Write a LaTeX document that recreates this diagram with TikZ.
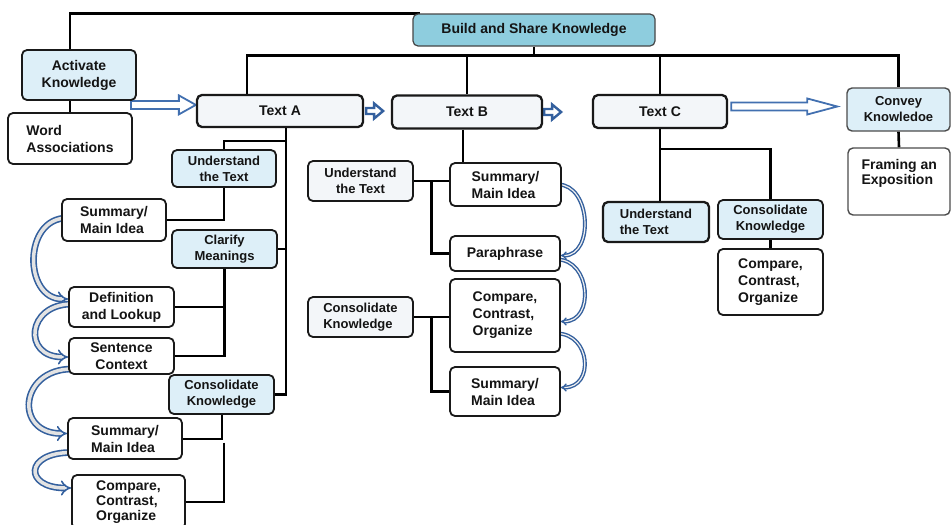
\documentclass[tikz,border=0pt]{standalone}
\usepackage{fontspec}
\setmainfont{Liberation Sans}
\usetikzlibrary{arrows.meta,calc,backgrounds}

\definecolor{buildfill}{RGB}{142,205,222}
\definecolor{paleblue}{RGB}{221,239,248}
\definecolor{textfill}{RGB}{243,246,249}
\definecolor{boxline}{RGB}{25,25,25}
\definecolor{inkcol}{RGB}{20,20,20}
\definecolor{arrblue}{RGB}{66,112,176}
\definecolor{darkblue}{RGB}{52,96,158}

% hollow block arrow: #1 style, #2 tail, #3 tip, #4 shaft half-width, #5 head half-width, #6 head length
\newcommand\fatarrow[6]{%
  \draw[#1] ($(#2)+(0,#4)$) -- ($(#3)+(-#6,#4)$) -- ($(#3)+(-#6,#5)$) -- (#3)
    -- ($(#3)+(-#6,-#5)$) -- ($(#3)+(-#6,-#4)$) -- ($(#2)+(0,-#4)$) -- cycle;}

\tikzset{
  box/.style={draw=boxline, line width=1.8pt, rounded corners=5pt, inner sep=2pt,
    text=inkcol, align=center, font=\fontsize{14}{17}\selectfont\bfseries},
  detail/.style={box, fill=white, align=left},
  topic/.style={box, fill=paleblue, font=\fontsize{13}{16}\selectfont\bfseries},
  textbox/.style={box, fill=textfill, line width=2.3pt},
  conn/.style={draw=black, line width=2.6pt},
  fat/.style={draw=arrblue, line width=1.8pt, fill=white, line join=miter},
  fatsmall/.style={draw=darkblue, line width=2.4pt, fill=white, line join=miter},
  loopL/.style={draw=darkblue, line width=1.6pt, double=gray!22, double distance=3.5pt, -{Implies}},
  loopR/.style={draw=darkblue, line width=1.4pt, double=gray!12, double distance=1.2pt, -{Implies}},
}

\begin{document}
\begin{tikzpicture}[x=1pt,y=-1pt]
\useasboundingbox (0,0) rectangle (951,525);

% top level
\node[box, fill=buildfill, draw=gray!55!black, line width=1.2pt, minimum width=242pt, minimum height=32pt] (build) at (534,30) {Build and Share Knowledge};
\node[topic, font=\fontsize{14}{17}\selectfont\bfseries, minimum width=114pt, minimum height=50pt] (act) at (79,75) {Activate\\Knowledge};
\node[detail, minimum width=124pt, minimum height=51pt] (word) at (70,138.5) {Word\\Associations};
\node[textbox, minimum width=166pt, minimum height=32pt] (textA) at (280,111) {Text A};
\node[textbox, minimum width=150pt, minimum height=33pt] (textB) at (467,112) {Text B};
\node[textbox, minimum width=134pt, minimum height=33pt] (textC) at (660,111.5) {Text C};
\node[topic, draw=gray!60!black, line width=1.4pt, minimum width=103pt, minimum height=43pt] (convey) at (898.5,109.5) {Convey\\Knowledoe};
\node[box, draw=gray!60!black, line width=1.4pt, fill=white, minimum width=102pt, minimum height=67pt] (framing) at (899,181.5) {};
\node[anchor=north west, align=left, inner sep=2pt, text=inkcol, font=\fontsize{14}{14.5}\selectfont\bfseries] (framingtext) at ($(framing.north west)+(12,10)$) {Framing an\\Exposition};

% Text A branch
\node[topic, minimum width=104pt, minimum height=37pt] (undA) at (224,168.5) {Understand\\the Text};
\node[detail, minimum width=104pt, minimum height=42pt] (sumA1) at (114,220) {Summary/\\Main Idea};
\node[topic, minimum width=105pt, minimum height=38pt] (clar) at (224.5,249) {Clarify\\Meanings};
\node[box, fill=white, minimum width=105pt, minimum height=40pt] (defA) at (121.5,307) {Definition\\and Lookup};
\node[box, fill=white, minimum width=105pt, minimum height=36pt] (sentA) at (121.5,356) {Sentence\\Context};
\node[topic, minimum width=105pt, minimum height=39pt] (consA) at (221.5,394.5) {Consolidate\\Knowledge};
\node[detail, minimum width=114pt, minimum height=41pt] (sumA2) at (125,438.5) {Summary/\\Main Idea};
\node[detail, font=\fontsize{14}{15}\selectfont\bfseries, minimum width=113pt, minimum height=54pt] (cmpA) at (128.5,502) {Compare,\\Contrast,\\Organize};

% Text B branch
\node[box, fill=textfill, font=\fontsize{13}{16}\selectfont\bfseries, minimum width=105pt, minimum height=40pt] (undB) at (360.5,181) {Understand\\the Text};
\node[detail, minimum width=111pt, minimum height=43pt] (sumB1) at (505.5,184.5) {Summary/\\Main Idea};
\node[detail, minimum width=110pt, minimum height=35pt] (para) at (505,253.5) {Paraphrase};
\node[box, fill=textfill, align=left, font=\fontsize{13}{16}\selectfont\bfseries, minimum width=105pt, minimum height=40pt] (consB) at (360.5,317) {Consolidate\\Knowledge};
\node[detail, minimum width=110pt, minimum height=73pt] (cmpB) at (505,315.5) {Compare,\\Contrast,\\Organize};
\node[detail, minimum width=110pt, minimum height=49pt] (sumB2) at (505,391.5) {Summary/\\Main Idea};

% Text C branch
\node[topic, line width=2.3pt, align=left, minimum width=106pt, minimum height=40pt] (undC) at (656,222) {Understand\\the Text};
\node[topic, minimum width=105pt, minimum height=39pt] (consC) at (770.5,219.5) {Consolidate\\Knowledge};
\node[detail, minimum width=105pt, minimum height=66pt] (cmpC) at (770.5,282) {Compare,\\Contrast,\\Organize};

\begin{scope}[on background layer]
  % hierarchy lines
  \coordinate (bus) at ($(build.south)+(0,9)$);
  \coordinate (dropA) at ($(textA.north)+(-33,0)$);
  \draw[conn] (word.north |- act.north) |- ($(build.north west)+(8,0)$);
  \draw[conn] (word.north) -- (word.north |- act.south);
  \draw[conn] (build.south) -- (bus);
  \draw[conn] (dropA) |- (convey.north |- bus) -- (convey.north);
  \draw[conn] (textB.north) -- (textB.north |- bus);
  \draw[conn] (textC.north) -- (textC.north |- bus);
  \draw[conn] (convey.south) -- (framing.north);

  % Text A
  \coordinate (spA) at ($(textA.south)+(6,0)$);
  \draw[conn] (spA) |- (consA.east);
  \draw[conn] ($(spA)+(0,13)$) -| (undA.north);
  \draw[conn] (clar.east) -- (clar.east -| spA);
  \draw[conn] (undA.south) |- (sumA1.east);
  \draw[conn] (clar.south) |- (sentA.east);
  \draw[conn] (defA.east) -- (defA.east -| clar.south);
  \draw[conn, line width=2pt] (consA.south) |- (sumA2.east);
  \coordinate (cA) at ($(consA.south |- sumA2.east)+(2,4)$);
  \draw[conn, line width=2pt] (cA) |- (cmpA.east);

  % Text B
  \coordinate (dropB) at ($(textB.south)+(-4,0)$);
  \draw[conn] (dropB) -- (dropB |- sumB1.north);
  \draw[conn] (undB.east) -- (undB.east -| sumB1.west);
  \coordinate (forkB) at ($(undB.east)!0.5!(undB.east -| sumB1.west)$);
  \draw[conn] (forkB) |- (para.west);
  \draw[conn] (consB.east) -- (consB.east -| cmpB.west);
  \coordinate (forkB2) at ($(consB.east)!0.5!(consB.east -| cmpB.west)$);
  \draw[conn] (forkB2) |- (sumB2.west);

  % Text C
  \draw[conn] (textC.south) -- (textC.south |- undC.north);
  \draw[conn] ($(textC.south)+(0,20)$) -| (consC.north);
  \draw[conn] (consC.south) -- (cmpC.north);

  % sequence arrows between texts
  \coordinate (t1) at ($(act.south east)+(-6,4)$);
  \coordinate (h1) at (textA.west |- t1);
  \fatarrow{fat}{t1}{h1}{4}{9.5}{17}
  \coordinate (t2) at ($(textA.east)+(2,0)$);
  \coordinate (h2) at ($(textA.east)+(19,0)$);
  \fatarrow{fatsmall}{t2}{h2}{3}{7.5}{9}
  \coordinate (t3) at ($(textB.east)+(1,0)$);
  \coordinate (h3) at ($(textB.east)+(18,0)$);
  \fatarrow{fatsmall}{t3}{h3}{3}{7.5}{9}
  \coordinate (t4) at ($(textC.east)+(3,-5)$);
  \coordinate (h4) at ($(convey.west |- t4)+(-9,0)$);
  \fatarrow{fat}{t4}{h4}{4}{8}{30}

  % reading-order loops
  \draw[loopL] ($(sumA1.west)+(6,-2)$) to[out=180,in=180,looseness=1.4] ($(defA.west)+(0,-8)$);
  \draw[loopL] ($(defA.west)+(4,-3)$) to[out=180,in=180,looseness=2.2] ($(sentA.west)+(0,1)$);
  \draw[loopL] ($(sentA.west)+(4,13)$) to[out=180,in=180,looseness=2.1] ($(sumA2.west)+(0,-5)$);
  \draw[loopL] ($(sumA2.west)+(4,14)$) to[out=180,in=180,looseness=3.4] ($(cmpA.west)+(0,-14)$);
  \draw[loopR] ($(sumB1.east)+(-4,0)$) to[out=0,in=0,looseness=1.2] ($(para.east)+(0,2)$);
  \draw[loopR] ($(para.east)+(-4,6)$) to[out=0,in=0,looseness=1.4] ($(cmpB.east)+(0,6)$);
  \draw[loopR] ($(cmpB.east)+(-4,18)$) to[out=0,in=0,looseness=1.6] ($(sumB2.east)+(0,-4)$);
\end{scope}
\end{tikzpicture}
\end{document}
